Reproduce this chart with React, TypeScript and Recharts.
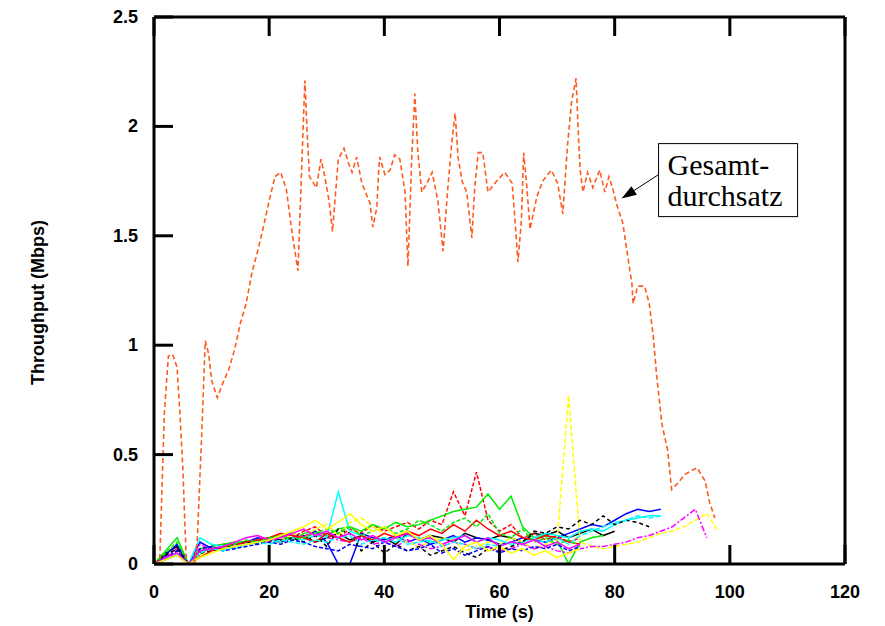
import { LineChart, Line, XAxis, YAxis, Label, ReferenceDot } from "recharts";

// aggregate throughput (Gesamtdurchsatz)
const totalTime = [
  0, 1, 1.8, 2.5, 3.2, 4, 4.5, 5, 5.6, 6, 7, 7.5, 8.3, 8.9, 9.5, 10, 11, 12, 13, 14, 15, 16, 17, 18, 19, 20,
  21, 22, 23, 24, 25, 26.2, 26.6, 27, 28.2, 29, 29.6, 30.4, 31, 32, 33, 33.8, 34.4, 35.2, 36.1, 37.5, 38,
  38.7, 39, 39.2, 40.1, 41, 41.8, 42.7, 43.6, 44.1, 44.8, 45.3, 45.8, 46.5, 47.4, 48.3, 49.3, 50.2, 51,
  51.7, 52.3, 52.8, 53.5, 54.3, 55.2, 55.7, 56.3, 57.1, 58, 59.5, 60.9, 62.2, 62.7, 63.2, 63.8, 64.2, 64.7,
  65.3, 66.5, 67.5, 69, 70.1, 71, 71.8, 72.5, 73.3, 73.6, 74, 74.5, 75.3, 76.2, 77.4, 78.3, 79, 79.6, 80.5,
  81.4, 82.3, 83, 83.2, 84, 85.2, 86, 86.7, 87.3, 88.2, 89.2, 89.9, 91, 92.2, 94.3, 95.7, 96.5, 97.4,
];
const totalRate = [
  0, 0.02, 0.69, 0.95, 0.96, 0.9, 0.69, 0.44, 0.02, 0, 0, 0.1, 0.6, 1.02, 0.96, 0.84, 0.76, 0.83, 0.89, 0.98,
  1.1, 1.19, 1.33, 1.43, 1.54, 1.66, 1.77, 1.79, 1.71, 1.51, 1.34, 2.21, 1.97, 1.77, 1.72, 1.85, 1.78, 1.66,
  1.52, 1.85, 1.9, 1.83, 1.79, 1.86, 1.74, 1.65, 1.54, 1.63, 1.79, 1.86, 1.78, 1.8, 1.87, 1.85, 1.7, 1.36,
  1.88, 2.15, 1.89, 1.7, 1.74, 1.79, 1.66, 1.43, 1.71, 1.92, 2.06, 1.86, 1.75, 1.7, 1.49, 1.72, 1.88, 1.88,
  1.7, 1.75, 1.79, 1.74, 1.57, 1.38, 1.57, 1.88, 1.74, 1.53, 1.68, 1.75, 1.8, 1.74, 1.6, 1.91, 2.11, 2.22,
  2.02, 1.8, 1.7, 1.79, 1.72, 1.8, 1.7, 1.77, 1.72, 1.63, 1.56, 1.4, 1.28, 1.19, 1.27, 1.27, 1.19, 1.04,
  0.86, 0.64, 0.52, 0.34, 0.37, 0.41, 0.44, 0.38, 0.28, 0.21,
];

// individual flows, sampled every 2 s
const flowTime = [
  0, 2, 4, 6, 8, 10, 12, 14, 16, 18, 20, 22, 24, 26, 28, 30, 32, 34, 36, 38, 40, 42, 44, 46, 48,
  50, 52, 54, 56, 58, 60, 62, 64, 66, 68, 70, 72, 74, 76, 78, 80, 82, 84, 86, 88, 90, 92, 94, 96, 98,
];
const _ = null;
const flowBlack = [0, .05, .08, 0, .06, .07, .07, .08, .09, .1, .12, .11, .12, .13, .1, .12, .14, .11, .13, .1, .12, .09, .14, .11, .13, .12, .1, .14, .12, .11, .13, .12, .1, .14, .13, .15, .12, .14, .16, .13, .15, _, _, _, _, _, _, _, _, _];
const flowRedDash = [0, .03, .06, 0, .04, .08, .09, .08, .1, .11, .1, .13, .12, .15, .17, .13, .12, .16, .14, .18, .15, .17, .19, .16, .2, .18, .33, .22, .42, .2, .15, .18, .12, .14, .11, .13, .1, .12, _, _, _, _, _, _, _, _, _, _, _, _];
const flowGreen = [0, .06, .12, 0, .07, .08, .09, .1, .1, .11, .12, .13, .11, .14, .15, .13, .16, .17, .15, .18, .16, .19, .17, .18, .2, .22, .24, .25, .26, .32, .25, .31, .17, .12, .13, .11, 0, .1, .12, .13, _, _, _, _, _, _, _, _, _, _];
const flowBlue = [0, .04, .09, 0, .1, .07, .08, .09, .1, .12, .11, .13, .14, .12, .15, .1, 0, 0, .14, .12, .11, .13, .1, .12, .09, .11, .13, .1, .12, .11, .09, .1, .12, .11, .1, .12, .14, .16, .18, .17, .2, .23, .25, .24, .25, _, _, _, _, _];
const flowYellowDash = [0, .02, .05, 0, .04, .06, .07, .08, .09, .1, .12, .1, .14, .12, .16, .18, .13, .19, .21, .17, .14, .12, .1, .08, .1, .12, .11, .06, .08, .1, .09, .12, .1, .07, .09, .11, .77, .1, .08, .07, .08, .09, .1, .12, .14, .15, .17, .2, .23, .15];
const flowMagentaDot = [0, .03, .07, 0, .09, .06, .07, .08, .1, .11, .12, .1, .11, .13, .14, .12, .11, .1, .12, .09, .1, .08, .11, .09, .07, .08, .1, .09, .07, .08, .06, .07, .09, .07, .08, .06, .05, .07, .08, .08, .09, .1, .12, .13, .15, .17, .21, .25, .12, _];
const flowCyan = [0, .02, .05, 0, .12, .09, .08, .07, .09, .1, .11, .1, .12, .11, .13, .12, .33, .15, .13, .11, .12, .1, .13, .12, .1, .11, .12, .13, .1, .12, .11, .09, .1, .12, .14, .13, .12, .15, .16, .15, .18, .2, .21, .22, .22, _, _, _, _, _];
const flowBlackDash = [0, .04, .07, 0, .05, .06, .07, .09, .1, .09, .11, .1, .12, .1, .13, .08, .16, .14, .06, .1, .05, .09, .06, .08, .04, .06, .08, .05, .03, .07, .06, .08, .1, .15, .14, .17, .16, .2, .18, .22, .18, .2, .19, .17, _, _, _, _, _, _];
const flowRed = [0, .02, .04, 0, .03, .06, .08, .09, .1, .11, .12, .14, .13, .12, .1, .14, .12, .1, .13, .11, .14, .12, .15, .13, .16, .14, .18, .15, .2, .16, .13, .15, .12, .11, .13, .12, .1, .09, _, _, _, _, _, _, _, _, _, _, _, _];
const flowGreenDash = [0, .05, .1, 0, .06, .07, .08, .09, .11, .1, .12, .13, .11, .12, .14, .16, .14, .17, .13, .15, .17, .14, .16, .2, .18, .15, .19, .21, .17, .23, .14, .12, .16, .1, .12, .09, .11, .08, _, _, _, _, _, _, _, _, _, _, _, _];
const flowBlueDash = [0, .03, .06, 0, .07, .08, .06, .07, .08, .09, .1, .09, .11, .1, .08, .07, .06, .09, .08, .07, .1, .08, .06, .07, .09, .05, .07, .04, .06, .08, .05, .07, .06, .08, .07, .09, .06, .08, _, _, _, _, _, _, _, _, _, _, _, _];
const flowCyanDash = [0, .02, .04, 0, .05, .07, .06, .08, .09, .1, .09, .11, .1, .09, .11, .1, .12, .13, .09, .11, .1, .12, .09, .1, .11, .08, .1, .09, .07, .09, .08, .1, .09, .11, .1, .12, .09, .13, .15, .17, .19, .2, .22, .21, .22, _, _, _, _, _];
const flowMagenta = [0, .03, .05, 0, .06, .07, .08, .1, .12, .13, .11, .12, .14, .16, .13, .15, .12, .14, .11, .13, .1, .12, .14, .11, .12, .09, .11, .13, .1, .12, .08, .1, .09, .11, .08, .1, .07, .09, _, _, _, _, _, _, _, _, _, _, _, _];
const flowYellow = [0, .02, .04, 0, .03, .05, .07, .08, .09, .1, .11, .13, .15, .17, .2, .16, .19, .23, .18, .15, .17, .13, .15, .11, .13, .09, .02, .08, .1, .06, .08, .05, .07, .04, .06, .03, .05, .07, _, _, _, _, _, _, _, _, _, _, _, _];

const xTicks = [0, 20, 40, 60, 80, 100, 120];
const yTicks = [0, 0.5, 1, 1.5, 2, 2.5];

const flows = [
  { values: flowBlack, color: "#000000", dash: undefined },
  { values: flowRedDash, color: "#ff0000", dash: "4 2" },
  { values: flowGreen, color: "#00ee00", dash: undefined },
  { values: flowBlue, color: "#0000ff", dash: undefined },
  { values: flowYellowDash, color: "#ffff00", dash: "5 2" },
  { values: flowMagentaDot, color: "#ff00ff", dash: "6 2 2 2" },
  { values: flowCyan, color: "#00ffff", dash: undefined },
  { values: flowBlackDash, color: "#000000", dash: "4 3" },
  { values: flowRed, color: "#ff0000", dash: undefined },
  { values: flowGreenDash, color: "#00ee00", dash: "4 2" },
  { values: flowBlueDash, color: "#0000ff", dash: "4 2" },
  { values: flowCyanDash, color: "#00ffff", dash: "5 2" },
  { values: flowMagenta, color: "#ff00ff", dash: undefined },
  { values: flowYellow, color: "#ffff00", dash: undefined },
];

const flowRows = flowTime.map((t, i) => {
  const row: Record<string, number | null> = { t };
  flows.forEach((f, k) => (row["f" + k] = f.values[i]));
  return row;
});
const totalRows = totalTime.map((t, i) => ({ t, v: totalRate[i] }));

const FONT = "'Liberation Sans', Arial, sans-serif";
const SERIF = "'Liberation Serif', 'Times New Roman', serif";
const TICK_LEN = 19;

const LeftTick = ({ x, y, payload }: any) => (
  <g>
    <line x1={x} x2={x + TICK_LEN} y1={y} y2={y} stroke="#000" strokeWidth={3} />
    <text x={x - 16} y={y + 6} textAnchor="end" fontFamily={FONT} fontWeight="bold" fontSize={18} fill="#000">
      {payload.value}
    </text>
  </g>
);
const RightTick = ({ x, y }: any) => (
  <line x1={x} x2={x - TICK_LEN} y1={y} y2={y} stroke="#000" strokeWidth={3} />
);
const BottomTick = ({ x, y, payload }: any) => (
  <g>
    <line x1={x} x2={x} y1={y} y2={y - TICK_LEN} stroke="#000" strokeWidth={3} />
    <text x={x} y={y + 34} textAnchor="middle" fontFamily={FONT} fontWeight="bold" fontSize={18} fill="#000">
      {payload.value}
    </text>
  </g>
);
const TopTick = ({ x, y }: any) => (
  <line x1={x} x2={x} y1={y} y2={y + TICK_LEN} stroke="#000" strokeWidth={3} />
);

const YTitle = ({ viewBox }: any) => {
  const cx = viewBox.x + 30;
  const cy = viewBox.y + viewBox.height / 2 + 12;
  return (
    <text
      x={cx}
      y={cy}
      transform={`rotate(-90 ${cx} ${cy})`}
      textAnchor="middle"
      dominantBaseline="central"
      fontFamily={FONT}
      fontWeight="bold"
      fontSize={18}
    >
      Throughput (Mbps)
    </text>
  );
};
const XTitle = ({ viewBox }: any) => (
  <text
    x={viewBox.x + viewBox.width / 2}
    y={viewBox.y + 54}
    textAnchor="middle"
    fontFamily={FONT}
    fontWeight="bold"
    fontSize={18}
  >
    Time (s)
  </text>
);

const Annotation = ({ cx, cy }: any) => {
  const bx = cx + 37;
  const by = cy - 55;
  const sx = bx;
  const sy = cy - 24;
  const ang = Math.atan2(cy - sy, cx - sx);
  const hl = 15;
  const hw = 5;
  const baseX = cx - hl * Math.cos(ang);
  const baseY = cy - hl * Math.sin(ang);
  const px = -Math.sin(ang) * hw;
  const py = Math.cos(ang) * hw;
  return (
    <g>
      <line x1={sx} y1={sy} x2={baseX} y2={baseY} stroke="#000" strokeWidth={1} />
      <polygon points={`${cx},${cy} ${baseX + px},${baseY + py} ${baseX - px},${baseY - py}`} fill="#000" />
      <rect x={bx} y={by} width={139} height={73} fill="#fff" stroke="#000" strokeWidth={1} />
      <text x={bx + 9} y={by + 31} fontFamily={SERIF} fontSize={30} fill="#000">
        Gesamt-
      </text>
      <text x={bx + 9} y={by + 62} fontFamily={SERIF} fontSize={30} fill="#000">
        durchsatz
      </text>
    </g>
  );
};

export default function App() {
  return (
    <div style={{ position: "absolute", left: 0, top: 0, width: 885, height: 626, background: "#fff" }}>
      <LineChart
        width={885}
        height={626}
        data={flowRows}
        margin={{ top: 12, right: 35, bottom: 32, left: 8 }}
      >
        <XAxis
          dataKey="t"
          type="number"
          domain={[0, 120]}
          ticks={xTicks}
          interval={0}
          height={30}
          axisLine={{ stroke: "#000", strokeWidth: 3 }}
          tickLine={false}
          tickSize={0}
          tickMargin={0}
          tick={<BottomTick />}
          allowDataOverflow
        >
          <Label content={<XTitle />} />
        </XAxis>
        <XAxis
          xAxisId="top"
          orientation="top"
          dataKey="t"
          type="number"
          domain={[0, 120]}
          ticks={xTicks}
          interval={0}
          height={5}
          axisLine={{ stroke: "#000", strokeWidth: 3 }}
          tickLine={false}
          tickSize={0}
          tickMargin={0}
          tick={<TopTick />}
        />
        <YAxis
          type="number"
          domain={[0, 2.5]}
          ticks={yTicks}
          interval={0}
          width={146}
          axisLine={{ stroke: "#000", strokeWidth: 3 }}
          tickLine={false}
          tickSize={0}
          tickMargin={0}
          tick={<LeftTick />}
          allowDataOverflow
        >
          <Label content={<YTitle />} />
        </YAxis>
        <YAxis
          yAxisId="right"
          orientation="right"
          type="number"
          domain={[0, 2.5]}
          ticks={yTicks}
          interval={0}
          width={5}
          axisLine={{ stroke: "#000", strokeWidth: 3 }}
          tickLine={false}
          tickSize={0}
          tickMargin={0}
          tick={<RightTick />}
        />
        {flows.map((f, k) => (
          <Line
            key={k}
            dataKey={"f" + k}
            type="linear"
            stroke={f.color}
            strokeWidth={1.5}
            strokeDasharray={f.dash}
            dot={false}
            activeDot={false}
            isAnimationActive={false}
          />
        ))}
        <Line
          data={totalRows}
          dataKey="v"
          type="linear"
          stroke="#ff5a1f"
          strokeWidth={1.6}
          strokeDasharray="5 3"
          dot={false}
          activeDot={false}
          isAnimationActive={false}
        />
        <ReferenceDot x={81.2} y={1.67} r={1} shape={(p: any) => <Annotation cx={p.cx} cy={p.cy} />} />
      </LineChart>
    </div>
  );
}
